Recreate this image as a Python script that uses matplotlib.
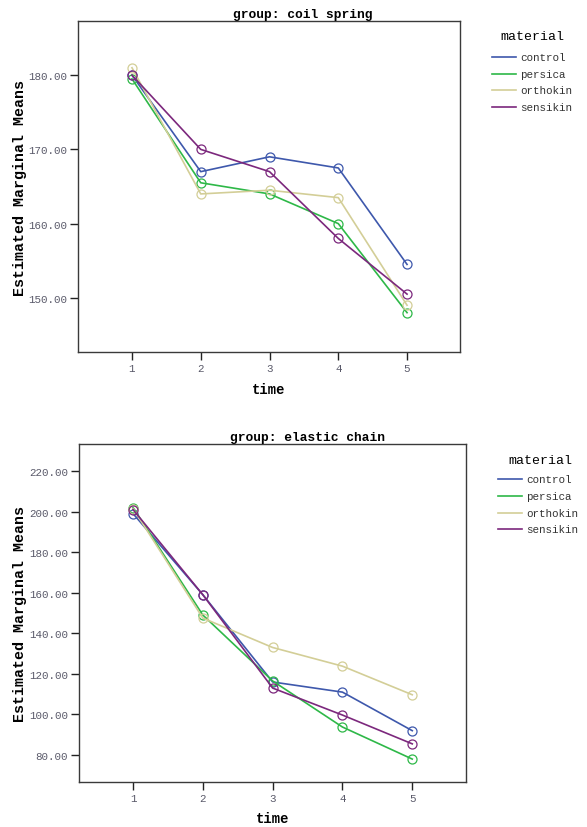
import matplotlib
matplotlib.use("Agg")
import matplotlib.pyplot as plt
from matplotlib.lines import Line2D

plt.rcParams['font.family'] = ['Liberation Mono', 'DejaVu Sans Mono']

time_points = [1, 2, 3, 4, 5]
materials = ["control", "persica", "orthokin", "sensikin"]
colors = ["#3E58AC", "#2EB848", "#D3CE97", "#7C287D"]

coil_control = [180.0, 167.0, 169.0, 167.5, 154.5]
coil_persica = [179.5, 165.5, 164.0, 160.0, 148.0]
coil_orthokin = [181.0, 164.0, 164.5, 163.5, 149.0]
coil_sensikin = [180.0, 170.0, 167.0, 158.0, 150.5]

elastic_control = [199.0, 159.0, 116.0, 111.0, 92.0]
elastic_persica = [202.0, 149.0, 116.5, 93.8, 78.0]
elastic_orthokin = [201.5, 147.5, 133.0, 123.8, 109.7]
elastic_sensikin = [201.0, 159.0, 113.0, 99.7, 85.5]

coil_yticks = [150, 160, 170, 180]
elastic_yticks = [80, 100, 120, 140, 160, 180, 200, 220]

W, H = 587, 828
fig = plt.figure(figsize=(W / 100, H / 100), dpi=100)
fig.patch.set_facecolor("white")

def add_ax(left, top, right, bottom):
    return fig.add_axes([left / W, (H - bottom) / H, (right - left) / W, (bottom - top) / H])

tick_color = "#5a5a6a"

def style(ax, title, title_x, title_y, yticks, ylim, xlim, ylabel_y, xlabel_y):
    ax.set_xlim(*xlim)
    ax.set_ylim(*ylim)
    ax.set_xticks(time_points)
    ax.set_xticklabels([str(t) for t in time_points])
    ax.set_yticks(yticks)
    ax.set_yticklabels([f"{v:.2f}" for v in yticks])
    for s in ax.spines.values():
        s.set_color("#3a3a3a")
        s.set_linewidth(1.0)
    ax.tick_params(direction="out", length=6, width=1, color="#222222",
                   labelsize=7.8, labelcolor=tick_color, pad=2)
    pos = ax.get_position()
    fig.text((pos.x0 + pos.x1) / 2, 1 - xlabel_y / H, "time", ha="center",
             va="center", fontsize=10, fontweight="bold")
    fig.text(title_x / W, 1 - title_y / H, title, ha="center", va="center",
             fontsize=9.3, fontweight="bold")
    fig.text(20 / W, 1 - ylabel_y / H, "Estimated Marginal Means", rotation=90,
             ha="center", va="center", fontsize=10.8, fontweight="bold")

def draw_lines(ax, series):
    for vals, c in zip(series, colors):
        ax.plot(time_points, vals, color=c, lw=1.2, marker="o", ms=6.5,
                mfc="none", mec=c, mew=0.9)

def legend(x_line, y_title, x_title, rows_y):
    fig.text(x_title / W, 1 - y_title / H, "material", ha="center", va="center",
             fontsize=9.5)
    for m, c, yy in zip(materials, colors, rows_y):
        fig.add_artist(Line2D([x_line / W, (x_line + 24) / W],
                              [1 - yy / H, 1 - yy / H], color=c, lw=1.2))
        fig.text((x_line + 28) / W, 1 - yy / H, m, ha="left", va="center",
                 fontsize=7.8, color="#333333")

ax1 = add_ax(78, 22, 460, 353)
draw_lines(ax1, [coil_control, coil_persica, coil_orthokin, coil_sensikin])
style(ax1, "group: coil spring", 303, 15, coil_yticks, (142.7, 187.3),
      (0.215, 5.77), 188, 390)
legend(492, 37, 532, [58, 75, 91, 108])

ax2 = add_ax(79, 445, 466, 783)
draw_lines(ax2, [elastic_control, elastic_persica, elastic_orthokin, elastic_sensikin])
style(ax2, "group: elastic chain", 308, 438, elastic_yticks, (66.7, 233.3),
      (0.226, 5.77), 614, 819)
legend(498, 461, 540, [480, 497, 514, 530])

fig.savefig("out.png", dpi=100, facecolor="white")
